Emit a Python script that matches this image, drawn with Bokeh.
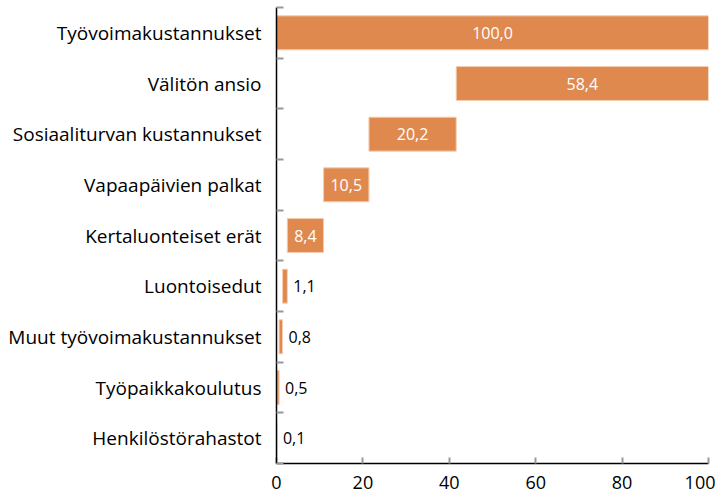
from bokeh.plotting import figure
from bokeh.models import ColumnDataSource, FixedTicker, Range1d, LabelSet
from bokeh.core.properties import value
from bokeh.embed import file_html
from bokeh.resources import INLINE

categories = ["Työvoimakustannukset", "Välitön ansio", "Sosiaaliturvan kustannukset",
              "Vapaapäivien palkat", "Kertaluonteiset erät", "Luontoisedut",
              "Muut työvoimakustannukset", "Työpaikkakoulutus", "Henkilöstörahastot"]
values = [100.0, 58.4, 20.2, 10.5, 8.4, 1.1, 0.8, 0.5, 0.1]
x_ticks = [0, 20, 40, 60, 80, 100]

FONT = "Open Sans"
n = len(categories)

# waterfall: first bar is total, following bars stack down from the total
lefts, rights = [], []
top = values[0]
for i, v in enumerate(values):
    if i == 0:
        lefts.append(0.0)
        rights.append(v)
    else:
        rights.append(top)
        lefts.append(top - v)
        top = top - v

ys = [n - 1 - i for i in range(n)]
labels = [f"{v:.1f}".replace(".", ",") for v in values]
inside = [v >= 5 for v in values]

src_in = ColumnDataSource(dict(
    y=[y for y, k in zip(ys, inside) if k],
    x=[(l + r) / 2 for l, r, k in zip(lefts, rights, inside) if k],
    t=[t for t, k in zip(labels, inside) if k]))
src_out = ColumnDataSource(dict(
    y=[y for y, k in zip(ys, inside) if not k],
    x=[r for r, k in zip(rights, inside) if not k],
    t=[t for t, k in zip(labels, inside) if not k]))

p = figure(width=715, height=500, output_backend="svg", toolbar_location=None,
           x_range=Range1d(0, 100), y_range=Range1d(-0.5, n - 0.5),
           min_border_left=276, min_border_right=7, min_border_top=7, min_border_bottom=37)
p.outline_line_color = None
p.grid.visible = False
p.background_fill_color = "white"
p.border_fill_color = "white"

p.hbar(y=ys, left=lefts, right=rights, height=0.67,
       fill_color="#E0894F", line_color="#F4CDB0", line_width=1)

p.add_layout(LabelSet(x="x", y="y", text="t", source=src_in, text_color="white",
                      text_align="center", text_baseline="middle",
                      text_font=value(FONT), text_font_size="16px"))
p.add_layout(LabelSet(x="x", y="y", text="t", source=src_out, text_color="black",
                      text_align="left", text_baseline="middle", x_offset=6,
                      text_font=value(FONT), text_font_size="16px"))

# y axis: labels at centers, ticks at category boundaries
yax = p.yaxis[0]
yax.ticker = FixedTicker(ticks=ys, minor_ticks=[k - 0.5 for k in range(n + 1)])
yax.major_label_overrides = {y: c for y, c in zip(ys, categories)}
yax.major_tick_in = 0
yax.major_tick_out = 0
yax.minor_tick_in = 7
yax.minor_tick_out = 0
yax.minor_tick_line_color = "#999999"
yax.minor_tick_line_width = 2
yax.axis_line_color = "black"
yax.axis_line_width = 1.5
yax.major_label_standoff = 15
yax.major_label_text_font = FONT
yax.major_label_text_font_size = "19px"
yax.major_label_text_color = "black"

xax = p.xaxis[0]
xax.ticker = FixedTicker(ticks=x_ticks, minor_ticks=[])
xax.major_tick_in = 6
xax.major_tick_out = 0
xax.major_tick_line_color = "#999999"
xax.major_tick_line_width = 2
xax.axis_line_color = "black"
xax.axis_line_width = 1.5
xax.major_label_standoff = 12
xax.major_label_text_font = FONT
xax.major_label_text_font_size = "18px"
xax.major_label_text_color = "black"

open("out.html", "w").write(file_html(p, INLINE))
